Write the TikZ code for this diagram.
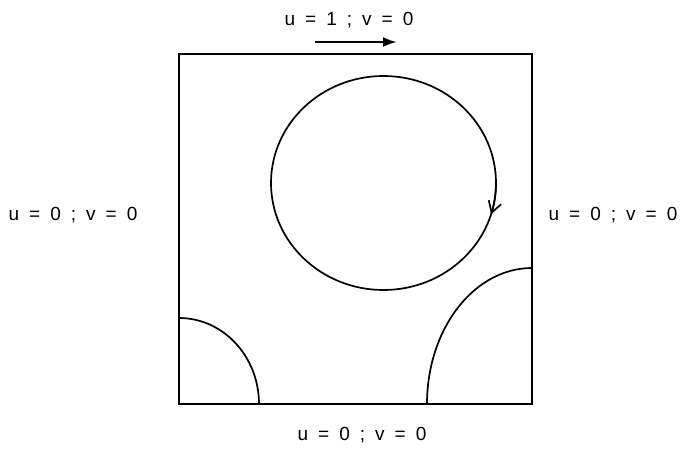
\documentclass[tikz,border=0pt]{standalone}
\usepackage{fontspec}
\setmainfont{Liberation Sans}[WordSpace=1.9]
\usetikzlibrary{arrows.meta}
\makeatletter
\renewcommand\small{%
  \@setfontsize\small{19pt}{21pt}%
}
\makeatother
\begin{document}
\begin{tikzpicture}[x=1pt, y=1pt, every node/.style={font=\small, inner sep=0pt}]
  \useasboundingbox (0,0) rectangle (680,448);
  \draw[line width=1.8pt] (179,44) rectangle (532,394);
  % lid moving to the right
  \node (lid) at (349,428) {u = 1 ; v = 0};
  \coordinate (lidfrom) at (315,406);
  \coordinate (lidto) at (397,406);
  \draw[line width=2.4pt, -{Latex[length=14pt,width=10pt]}] (lidfrom) -- (lidto);
  \foreach \x/\y/\name in {73/233/left, 613/233/right, 362/13/bottom} {
    \node (\name) at (\x,\y) {u = 0 ; v = 0};
  }
  % main vortex and corner eddies
  \coordinate (c) at (383.5,265);
  \draw[line width=1.7pt] (c) ellipse [x radius=112.5, y radius=107];
  \draw[line width=1.7pt, -{Straight Barb[length=11pt,width=13pt]}] (496,265) arc[start angle=0, end angle=-17, x radius=112.5, y radius=107];
  \draw[line width=1.7pt] (179,130) arc[start angle=90, end angle=0, x radius=80, y radius=86];
  \draw[line width=1.7pt] (427,44) arc[start angle=180, end angle=90, x radius=105, y radius=136];
\end{tikzpicture}
\end{document}
